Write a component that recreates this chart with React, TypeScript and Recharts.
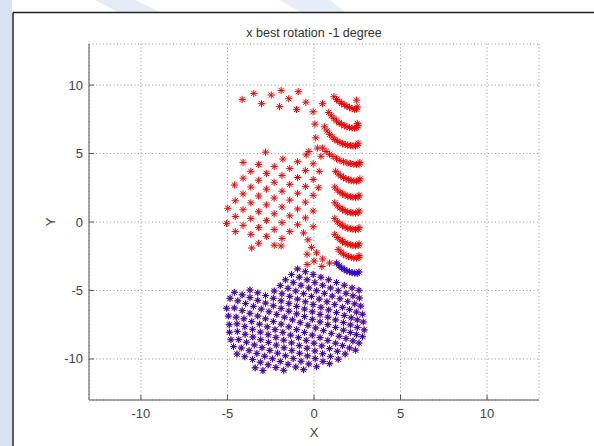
import React from 'react';
import { ScatterChart, Scatter, XAxis, YAxis, CartesianGrid } from 'recharts';

type P = [number, number];

const titleText = 'x best rotation -1 degree';
const xLabel = 'X';
const yLabel = 'Y';
const xTicks = [-10, -5, 0, 5, 10];
const yTicks = [-10, -5, 0, 5, 10];
const axisDomain: [number, number] = [-13, 13];

// red: scattered top row
const redTopRow: P[] = [
  [-4.15, 8.95], [-3.48, 9.39], [-3.03, 8.64], [-2.47, 9.27], [-1.9, 9.61], [-1.99, 8.42],
  [-1.46, 9.0], [-1.01, 8.22], [-0.91, 9.52], [-0.47, 8.75], [-0.05, 8.05], [0.49, 8.64],
];

// red: upper-left lattice
const redLattice: P[] = [
  [-5.05, -0.1], [-4.98, 1.0],
  [-4.55, -0.7], [-4.55, 0.4], [-4.55, 1.55], [-4.6, 2.7],
  [-4.1, -0.25], [-4.1, 0.9], [-4.1, 2.05], [-4.1, 3.2], [-4.1, 4.35],
  [-3.6, -1.9], [-3.65, -0.9], [-3.65, 0.25], [-3.65, 1.4], [-3.65, 2.55], [-3.65, 3.7],
  [-3.2, -1.55], [-3.2, -0.4], [-3.2, 0.75], [-3.2, 1.9], [-3.2, 3.05], [-3.2, 4.2],
  [-2.75, -1.05], [-2.75, 0.1], [-2.75, 1.25], [-2.75, 2.4], [-2.75, 3.55], [-2.8, 5.1],
  [-2.3, -1.7], [-2.3, -0.55], [-2.3, 0.6], [-2.3, 1.75], [-2.3, 2.9], [-2.3, 4.05],
  [-1.9, -1.75], [-1.85, -1.2], [-1.85, -0.05], [-1.85, 1.1], [-1.85, 2.25], [-1.85, 3.4], [-1.8, 4.6],
  [-1.4, -0.7], [-1.4, 0.45], [-1.4, 1.6], [-1.4, 2.75], [-1.4, 3.9],
  [-0.95, -0.2], [-0.95, 0.95], [-0.95, 2.1], [-0.95, 3.25], [-0.95, 4.4],
  [-0.5, 0.3], [-0.5, 1.45], [-0.5, 2.6], [-0.5, 3.75], [-0.45, 4.9],
  [-0.05, -0.35], [-0.05, 0.8], [-0.05, 1.95], [-0.05, 3.1], [-0.05, 4.25], [-0.3, 5.15],
];

// red: spine near x = 0 and the diagonal link to the lower part
const redSpine: P[] = [
  [0.05, 7.15], [0.1, 6.15], [0.2, 5.4], [0.4, 4.8], [0.3, 3.7], [0.25, 2.5],
  [-0.6, -0.8], [-0.35, -1.3], [-0.15, -1.85], [0.15, -2.25], [0.5, -2.7], [0.9, -3.0],
  [-0.4, -2.35], [-0.4, -3.1], [0.45, -3.25], [0.0, -2.85],
];

// red: curved strips on the right side
const redStrips: P[] = [
  [1.15, 9.15], [1.3, 8.95], [1.45, 8.8], [1.6, 8.66], [1.75, 8.55], [1.9, 8.45], [2.05, 8.36], [2.2, 8.28], [2.35, 8.22], [2.45, 8.25], [2.5, 8.4], [2.45, 8.9],
  [0.85, 8.0], [1.0, 7.75], [1.15, 7.55], [1.3, 7.38], [1.45, 7.24], [1.6, 7.12], [1.75, 7.02], [1.9, 6.95], [2.05, 6.9], [2.2, 6.86], [2.35, 6.85], [2.45, 6.9], [2.55, 7.05], [2.5, 7.2],
  [0.6, 6.95], [0.75, 6.65], [0.9, 6.4], [1.05, 6.2], [1.2, 6.03], [1.35, 5.9], [1.5, 5.8], [1.65, 5.72], [1.8, 5.66], [1.95, 5.61], [2.1, 5.58], [2.25, 5.56], [2.4, 5.56], [2.5, 5.6], [2.55, 5.75],
  [0.5, 5.4], [0.7, 5.15], [0.9, 4.95], [1.1, 4.78], [1.3, 4.62], [1.5, 4.5], [1.7, 4.4], [1.9, 4.32], [2.1, 4.26], [2.3, 4.22], [2.45, 4.2], [2.6, 4.22], [2.65, 4.35],
  [1.25, 3.7], [1.4, 3.5], [1.55, 3.36], [1.7, 3.24], [1.85, 3.15], [2.0, 3.08], [2.15, 3.03], [2.3, 3.0], [2.45, 2.99], [2.6, 3.02], [2.65, 3.15],
  [1.2, 2.55], [1.35, 2.33], [1.5, 2.17], [1.65, 2.05], [1.8, 1.96], [1.95, 1.89], [2.1, 1.84], [2.25, 1.81], [2.4, 1.8], [2.55, 1.82], [2.6, 1.95],
  [1.2, 1.4], [1.35, 1.18], [1.5, 1.02], [1.65, 0.9], [1.8, 0.8], [1.95, 0.73], [2.1, 0.69], [2.25, 0.66], [2.4, 0.65], [2.55, 0.67], [2.6, 0.8],
  [1.2, 0.25], [1.35, 0.02], [1.5, -0.15], [1.65, -0.28], [1.8, -0.38], [1.95, -0.45], [2.1, -0.5], [2.25, -0.53], [2.4, -0.55], [2.55, -0.53], [2.6, -0.4],
  [1.2, -0.9], [1.35, -1.13], [1.5, -1.3], [1.65, -1.43], [1.8, -1.53], [1.95, -1.61], [2.1, -1.67], [2.25, -1.71], [2.4, -1.74], [2.55, -1.72], [2.6, -1.6],
  [1.4, -2.0], [1.55, -2.2], [1.7, -2.35], [1.85, -2.45], [2.0, -2.53], [2.15, -2.58], [2.3, -2.62], [2.45, -2.64], [2.6, -2.6], [2.6, -2.45],
];

// both series: lower part of the shape
const lowerPart: P[] = [
  [1.3, -3.0], [1.45, -3.2], [1.6, -3.35], [1.75, -3.47], [1.9, -3.57], [2.05, -3.64], [2.2, -3.7], [2.35, -3.73], [2.5, -3.75], [2.6, -3.65],
  [-0.95, -3.43], [-0.5, -3.63], [-0.05, -3.83], [0.4, -4.03], [0.85, -4.22], [1.3, -4.42], [1.75, -4.62], [2.2, -4.82], [2.6, -4.99],
  [-1.3, -3.83], [-0.85, -4.03], [-0.4, -4.22], [0.05, -4.42], [0.5, -4.62], [0.95, -4.82], [1.4, -5.02], [1.85, -5.21], [2.25, -5.39], [2.62, -5.55],
  [-1.65, -4.22], [-1.2, -4.42], [-0.75, -4.62], [-0.3, -4.82], [0.15, -5.02], [0.6, -5.21], [1.05, -5.41], [1.5, -5.61], [1.95, -5.81], [2.35, -5.98], [2.7, -6.14],
  [-1.95, -4.64], [-1.5, -4.84], [-1.05, -5.04], [-0.6, -5.24], [-0.15, -5.43], [0.3, -5.63], [0.75, -5.83], [1.2, -6.03], [1.65, -6.23], [2.05, -6.4], [2.45, -6.58], [2.8, -6.73],
  [-2.3, -5.04], [-1.85, -5.24], [-1.4, -5.43], [-0.95, -5.63], [-0.5, -5.83], [-0.05, -6.03], [0.4, -6.23], [0.85, -6.42], [1.3, -6.62], [1.75, -6.82], [2.15, -7.0], [2.5, -7.15], [2.85, -7.3],
  [-3.7, -4.97], [-3.25, -5.17], [-2.8, -5.37], [-2.35, -5.57], [-1.9, -5.76], [-1.45, -5.96], [-1.0, -6.16], [-0.55, -6.36], [-0.1, -6.56], [0.35, -6.75], [0.8, -6.95], [1.25, -7.15], [1.7, -7.35], [2.1, -7.52], [2.5, -7.7], [2.9, -7.88],
  [-4.6, -5.13], [-4.15, -5.32], [-3.7, -5.52], [-3.25, -5.72], [-2.8, -5.92], [-2.35, -6.12], [-1.9, -6.31], [-1.45, -6.51], [-1.0, -6.71], [-0.55, -6.91], [-0.1, -7.11], [0.35, -7.3], [0.8, -7.5], [1.25, -7.7], [1.7, -7.9], [2.1, -8.07], [2.45, -8.23], [2.8, -8.38],
  [-4.85, -5.57], [-4.4, -5.76], [-3.95, -5.96], [-3.5, -6.16], [-3.05, -6.36], [-2.6, -6.56], [-2.15, -6.75], [-1.7, -6.95], [-1.25, -7.15], [-0.8, -7.35], [-0.35, -7.55], [0.1, -7.74], [0.55, -7.94], [1.0, -8.14], [1.45, -8.34], [1.85, -8.51], [2.25, -8.69], [2.6, -8.84],
  [-5.05, -6.3], [-4.6, -6.28], [-4.15, -6.47], [-3.7, -6.67], [-3.25, -6.87], [-2.8, -7.07], [-2.35, -7.27], [-1.9, -7.46], [-1.45, -7.66], [-1.0, -7.86], [-0.55, -8.06], [-0.1, -8.26], [0.35, -8.45], [0.8, -8.65], [1.25, -8.85], [1.65, -9.03], [2.05, -9.2], [2.4, -9.36],
  [-4.95, -6.87], [-4.5, -6.95], [-4.05, -7.07], [-3.6, -7.27], [-3.15, -7.46], [-2.7, -7.66], [-2.25, -7.86], [-1.8, -8.06], [-1.35, -8.26], [-0.9, -8.45], [-0.45, -8.65], [0.0, -8.85], [0.45, -9.05], [0.9, -9.25], [1.35, -9.44], [1.8, -9.64],
  [-4.9, -7.5], [-4.45, -7.44], [-4.0, -7.64], [-3.55, -7.84], [-3.1, -8.04], [-2.65, -8.23], [-2.2, -8.43], [-1.75, -8.63], [-1.3, -8.83], [-0.85, -9.03], [-0.4, -9.22], [0.05, -9.42], [0.5, -9.62], [0.95, -9.82], [1.4, -10.02],
  [-4.88, -8.05], [-4.43, -8.0], [-3.98, -8.2], [-3.53, -8.4], [-3.08, -8.6], [-2.63, -8.79], [-2.18, -8.99], [-1.73, -9.19], [-1.28, -9.39], [-0.83, -9.59], [-0.38, -9.78], [0.07, -9.98], [0.52, -10.18], [0.9, -10.35],
  [-4.8, -8.6], [-4.35, -8.59], [-3.9, -8.78], [-3.45, -8.98], [-3.0, -9.18], [-2.55, -9.38], [-2.1, -9.58], [-1.65, -9.77], [-1.2, -9.97], [-0.75, -10.17], [-0.3, -10.37], [0.15, -10.57],
  [-4.65, -9.1], [-4.2, -9.2], [-3.75, -9.4], [-3.3, -9.6], [-2.85, -9.8], [-2.4, -9.99], [-1.95, -10.19], [-1.5, -10.39], [-1.05, -10.59], [-0.6, -10.79],
  [-4.45, -9.64], [-4.0, -9.84], [-3.55, -10.04], [-3.1, -10.24], [-2.65, -10.43], [-2.2, -10.63], [-1.75, -10.83],
  [-3.4, -10.65], [-2.95, -10.85],
];

const FONT = '"Liberation Sans", Arial, Helvetica, sans-serif';
const RED = '#f20000';
const BLUE = '#1414e6';

const toPts = (arr: P[]) => arr.map(([x, y]) => ({ x, y }));
const redUpper = toPts([...redTopRow, ...redLattice, ...redSpine, ...redStrips]);
const redLower = toPts(lowerPart);
const blueLower = toPts(lowerPart);

const makeStar = (color: string, r: number) => (props: any) => {
  const { cx, cy } = props;
  if (cx == null || cy == null) return <g />;
  const d = r * 0.72;
  return (
    <g stroke={color} strokeWidth={1} fill="none">
      <line x1={cx - r} y1={cy} x2={cx + r} y2={cy} />
      <line x1={cx} y1={cy - r} x2={cx} y2={cy + r} />
      <line x1={cx - d} y1={cy - d} x2={cx + d} y2={cy + d} />
      <line x1={cx - d} y1={cy + d} x2={cx + d} y2={cy - d} />
    </g>
  );
};

const XTick = (props: any) => {
  const { x, y, payload } = props;
  return (
    <g>
      <line x1={x} x2={x} y1={y} y2={y - 5} stroke="#555" strokeWidth={1} />
      <text x={x} y={y + 18} textAnchor="middle" fontSize={13} fill="#444" fontFamily={FONT}>
        {String(payload.value)}
      </text>
    </g>
  );
};

const YTick = (props: any) => {
  const { x, y, payload } = props;
  return (
    <g>
      <line x1={x} x2={x + 5} y1={y} y2={y} stroke="#555" strokeWidth={1} />
      <text x={x - 6} y={y + 4.5} textAnchor="end" fontSize={13} fill="#444" fontFamily={FONT}>
        {String(payload.value)}
      </text>
    </g>
  );
};

export default function App() {
  return (
    <div style={{ position: 'absolute', left: 0, top: 0, width: 594, height: 446, background: '#fff', overflow: 'hidden' }}>
      <svg width={594} height={446} style={{ position: 'absolute', left: 0, top: 0 }}>
        <rect x={0} y={0} width={12} height={446} fill="#d9e2f2" />
        <polygon points="95,0 135,0 160,12 118,12" fill="#e4ebf7" />
        <polygon points="280,0 330,0 345,12 300,12" fill="#e7edf8" />
        <line x1={13} y1={12.5} x2={594} y2={12.5} stroke="#222" strokeWidth={1.5} />
        <line x1={13} y1={12.5} x2={13} y2={446} stroke="#222" strokeWidth={1.5} />
      </svg>
      <div style={{ position: 'absolute', left: 0, top: 0 }}>
        <ScatterChart width={594} height={446} margin={{ top: 44, right: 55, left: 0, bottom: 0 }}>
          <CartesianGrid stroke="#999" strokeDasharray="1 2.5" />
          <XAxis
            type="number"
            dataKey="x"
            domain={axisDomain}
            ticks={xTicks}
            allowDataOverflow
            height={46}
            stroke="#555"
            tickLine={false}
            tickSize={0}
            tickMargin={0}
            tick={<XTick />}
            interval={0}
          />
          <YAxis
            type="number"
            dataKey="y"
            domain={axisDomain}
            ticks={yTicks}
            allowDataOverflow
            width={89}
            stroke="#555"
            tickLine={false}
            tickSize={0}
            tickMargin={0}
            tick={<YTick />}
            interval={0}
          />
          <Scatter data={redUpper} shape={makeStar(RED, 3.6)} isAnimationActive={false} />
          <Scatter data={redLower} shape={makeStar(RED, 3.6)} isAnimationActive={false} />
          <Scatter data={blueLower} shape={makeStar(BLUE, 3.1)} isAnimationActive={false} />
        </ScatterChart>
      </div>
      <svg width={594} height={446} style={{ position: 'absolute', left: 0, top: 0, pointerEvents: 'none' }}>
        <text x={314} y={37} textAnchor="middle" fontSize={12.5} fill="#333" fontFamily={FONT}>
          {titleText}
        </text>
        <text x={314} y={437} textAnchor="middle" fontSize={13} fill="#444" fontFamily={FONT}>
          {xLabel}
        </text>
        <text x={50} y={222} textAnchor="middle" fontSize={13} fill="#444" fontFamily={FONT} transform="rotate(-90 50 222)" dy={4.5}>
          {yLabel}
        </text>
      </svg>
    </div>
  );
}
